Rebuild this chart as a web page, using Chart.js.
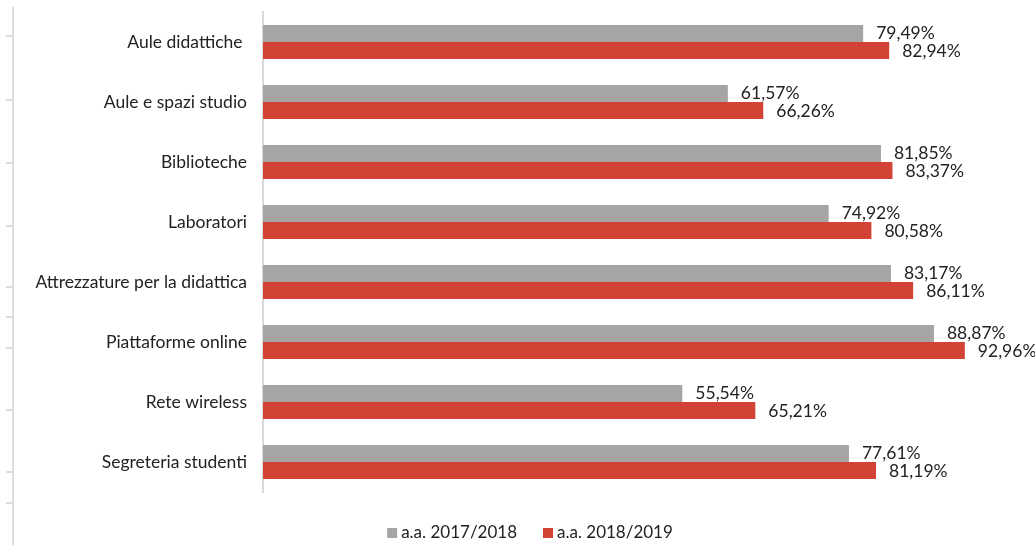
<!DOCTYPE html>
<html>
<head>
<meta charset="utf-8">
<script src="https://cdn.jsdelivr.net/npm/chart.js@4"></script>
<style>
  html, body { margin: 0; padding: 0; background: #ffffff; }
  #wrap { width: 1035px; height: 545px; position: relative; }
</style>
</head>
<body>
<div id="wrap"><canvas id="c" width="1035" height="545"></canvas></div>
<script>
const categories = [
  "Aule didattiche ",
  "Aule e spazi studio",
  "Biblioteche",
  "Laboratori",
  "Attrezzature per la didattica",
  "Piattaforme online",
  "Rete wireless",
  "Segreteria studenti"
];
const seriesNames = ["a.a. 2017/2018", "a.a. 2018/2019"];
const values2017 = [79.49, 61.57, 81.85, 74.92, 83.17, 88.87, 55.54, 77.61];
const values2018 = [82.94, 66.26, 83.37, 80.58, 86.11, 92.96, 65.21, 81.19];

const FONT = "Lato, 'Open Sans', sans-serif";

function fmt(v) { return v.toFixed(2).replace('.', ',') + '%'; }

const labelPlugin = {
  id: 'barLabels',
  afterDatasetsDraw(chart) {
    const ctx = chart.ctx;
    ctx.save();
    ctx.font = '17.5px ' + FONT;
    ctx.fillStyle = '#222222';
    ctx.textAlign = 'left';
    ctx.textBaseline = 'middle';
    chart.data.datasets.forEach((ds, di) => {
      const meta = chart.getDatasetMeta(di);
      meta.data.forEach((bar, i) => {
        ctx.fillText(fmt(ds.data[i]), bar.x + 13, bar.y + (di === 0 ? 0 : 1));
      });
    });
    ctx.restore();
  }
};

const legendPlugin = {
  id: 'bottomLegend',
  afterDraw(chart) {
    const ctx = chart.ctx;
    ctx.save();
    ctx.font = '17px ' + FONT;
    ctx.textBaseline = 'middle';
    ctx.textAlign = 'left';
    const box = 10, gap = 4, itemGap = 26;
    const items = chart.data.datasets.map(ds => ({
      text: ds.label, color: ds.backgroundColor, w: ctx.measureText(ds.label).width
    }));
    const total = items.reduce((s, it) => s + box + gap + it.w, 0) + itemGap * (items.length - 1);
    let x = 530 - total / 2;
    const cy = 533;
    items.forEach(it => {
      ctx.fillStyle = it.color;
      ctx.fillRect(x, cy - box / 2, box, box);
      x += box + gap;
      ctx.fillStyle = '#222222';
      ctx.fillText(it.text, x, cy);
      x += it.w + itemGap;
    });
    ctx.restore();
  }
};

const strayAxisPlugin = {
  id: 'strayAxis',
  beforeDraw(chart) {
    const ctx = chart.ctx;
    ctx.save();
    ctx.fillStyle = '#ffffff';
    ctx.fillRect(0, 0, chart.width, chart.height);
    ctx.strokeStyle = '#DDDDDD';
    ctx.lineWidth = 2;
    ctx.beginPath();
    ctx.moveTo(13, 7);
    ctx.lineTo(13, 545);
    [36, 100, 163, 226, 287, 317, 348, 410, 472, 503].forEach(y => {
      ctx.moveTo(6, y);
      ctx.lineTo(13, y);
    });
    ctx.stroke();
    ctx.restore();
  }
};

new Chart(document.getElementById('c'), {
  type: 'bar',
  data: {
    labels: categories,
    datasets: [
      { label: seriesNames[0], data: values2017, backgroundColor: '#A5A5A5',
        categoryPercentage: 0.57, barPercentage: 1.0 },
      { label: seriesNames[1], data: values2018, backgroundColor: '#D34335',
        categoryPercentage: 0.57, barPercentage: 1.0 }
    ]
  },
  options: {
    indexAxis: 'y',
    responsive: false,
    animation: false,
    devicePixelRatio: 1,
    layout: { padding: { top: 12, right: 17, left: 0, bottom: 53 } },
    scales: {
      x: { display: false, min: 0, max: 100 },
      y: {
        grid: { display: false, drawTicks: false },
        border: { display: true, color: '#D9D9D9', width: 2 },
        ticks: { color: '#222222', font: { family: FONT, size: 17.5 }, padding: 16 },
        afterFit(scale) { scale.width = 263; scale.paddingTop = 0; scale.paddingBottom = 0; }
      }
    },
    plugins: {
      legend: { display: false },
      tooltip: { enabled: false }
    }
  },
  plugins: [strayAxisPlugin, labelPlugin, legendPlugin]
});
</script>
</body>
</html>
